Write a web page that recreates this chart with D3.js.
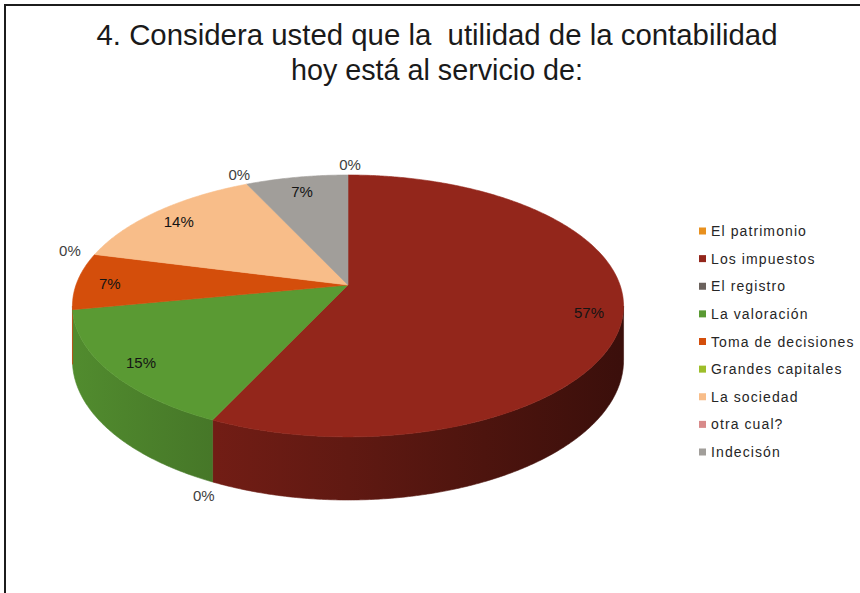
<!DOCTYPE html>
<html>
<head>
<meta charset="utf-8">
<script src="https://cdn.jsdelivr.net/npm/d3@7"></script>
<style>
  html, body { margin: 0; padding: 0; background: #fff; }
  svg { display: block; }
  text { font-family: "Liberation Sans", Arial, Helvetica, sans-serif; }
</style>
</head>
<body>
<script>
// Survey answers, question 4
const categories = ["El patrimonio", "Los impuestos", "El registro", "La valoración",
  "Toma de decisiones", "Grandes capitales", "La sociedad", "otra cual?", "Indecisón"];
const values = [0, 57, 0, 15, 7, 0, 14, 0, 7];
const colors = ["#E8901E", "#93261B", "#6B625D", "#5A9A33", "#D44E0B",
  "#9DBE2A", "#F8BD89", "#D88A8A", "#A19E9A"];
const titleLines = ["4. Considera usted que la  utilidad de la contabilidad",
  "hoy está al servicio de:"];

const W = 860, H = 593;
const svg = d3.select("body").append("svg").attr("width", W).attr("height", H);
const defs = svg.append("defs");

// frame
svg.append("path")
  .attr("d", `M5,${H} L5,5 L${W},5`)
  .attr("fill", "none").attr("stroke", "#1c1c1c").attr("stroke-width", 2);

// title
const title = svg.append("g").attr("fill", "#1a1a1a").style("font-size", "29px");
const titleLen = [681, 292];
titleLines.forEach((t, i) => {
  title.append("text")
    .attr("x", 437).attr("y", 45 + i * 35)
    .attr("text-anchor", "middle")
    .style("white-space", "pre")
    .attr("textLength", titleLen[i]).attr("lengthAdjust", "spacingAndGlyphs")
    .text(t);
});

// tilted pie geometry (perspective view of a disc)
const cx = 348, cy = 285, A = 272, B = 127.6, q = -0.16, depth = 53;
function proj(a, r, dz = 0) {
  const u = r * Math.sin(a), v = -r * Math.cos(a);
  const s = 1 / (1 + q * v);
  return [cx + A * u * s, cy + (B * v + dz) * s];
}

const data = categories.map((c, i) => ({ name: c, value: values[i], color: colors[i] }));
const total = d3.sum(values);
const pie = d3.pie().sort(null).value(d => d.value).startAngle(0).endAngle(2 * Math.PI);
const arcs = pie(data);
const fmt = d3.format(".0%");
const line = d3.line();

function arcPoints(a0, a1, r, dz) {
  const n = Math.max(2, Math.ceil((a1 - a0) / (Math.PI / 360)));
  return d3.range(n + 1).map(k => proj(a0 + (a1 - a0) * k / n, r, dz));
}

// side walls only where the rim faces the viewer
const aVis0 = Math.acos(q), aVis1 = 2 * Math.PI - Math.acos(q);
const shadeK = d3.scaleLinear().domain([0, 1]).range([0.9, 0.4]);
function shade(c, k) {
  const o = d3.rgb(c);
  return d3.rgb(o.r * k, o.g * k, o.b * k).formatHex();
}

const walls = svg.append("g");
arcs.forEach((d, i) => {
  if (d.value <= 0) return;
  const a0 = Math.max(d.startAngle, aVis0), a1 = Math.min(d.endAngle, aVis1);
  if (a1 <= a0) return;
  const gid = "wall" + i;
  const g = defs.append("linearGradient").attr("id", gid)
    .attr("gradientUnits", "userSpaceOnUse")
    .attr("x1", cx - A).attr("x2", cx + A).attr("y1", 0).attr("y2", 0);
  d3.range(0, 1.0001, 0.25).forEach(t => {
    g.append("stop").attr("offset", t).attr("stop-color", shade(d.data.color, shadeK(t)));
  });
  const pts = arcPoints(a0, a1, 1, 0).concat(arcPoints(a0, a1, 1, depth).reverse());
  walls.append("path").attr("d", line(pts) + "Z")
    .attr("fill", `url(#${gid})`)
    .attr("stroke", `url(#${gid})`).attr("stroke-width", 0.6);
});

// top faces
const tops = svg.append("g");
arcs.forEach(d => {
  if (d.value <= 0) return;
  const pts = [proj(0, 0)].concat(arcPoints(d.startAngle, d.endAngle, 1, 0));
  tops.append("path").attr("d", line(pts) + "Z")
    .attr("fill", d.data.color).attr("stroke", d.data.color).attr("stroke-width", 0.6);
});

// value labels
const labels = svg.append("g").style("font-size", "15px").attr("text-anchor", "middle");
arcs.forEach(d => {
  const mid = (d.startAngle + d.endAngle) / 2;
  const txt = fmt(d.value / total);
  if (d.value > 0) {
    const p = proj(mid, 0.88, 0);
    labels.append("text").attr("x", p[0]).attr("y", p[1] + 8)
      .attr("fill", "#141414").text(txt);
  } else {
    const front = -Math.cos(mid) > -q;
    const p = proj(mid, front ? 1.08 : 1.11, front ? depth : 0);
    labels.append("text").attr("x", p[0] + (front ? 4 : 2)).attr("y", p[1] + 5)
      .attr("fill", "#404040").text(txt);
  }
});

// legend
const ly = d3.scaleLinear().domain([0, categories.length - 1]).range([231, 452]);
const legend = svg.append("g").style("font-size", "14px").style("letter-spacing", "1.1px");
data.forEach((d, i) => {
  const y = ly(i);
  legend.append("rect").attr("x", 699).attr("y", y - 3.5).attr("width", 7).attr("height", 7)
    .attr("fill", d.color);
  legend.append("text").attr("x", 711).attr("y", y + 5)
    .attr("fill", "#262626").text(d.name);
});
</script>
</body>
</html>
